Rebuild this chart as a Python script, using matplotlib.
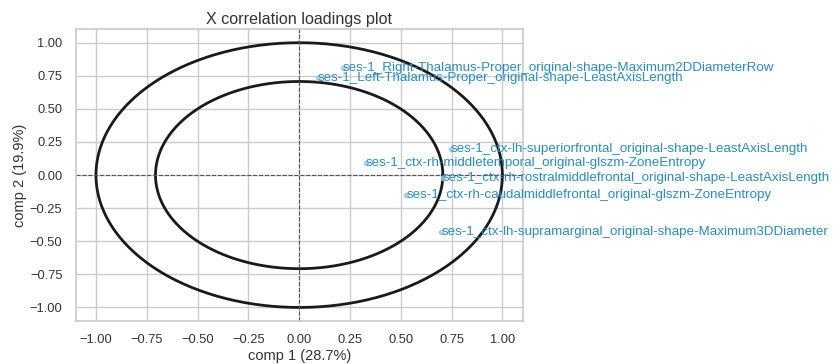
import matplotlib
matplotlib.use("Agg")
import matplotlib.pyplot as plt
import numpy as np
import seaborn as sns

# loadings of the selected features on comp 1 / comp 2
features = [
    "ses-1_Right-Thalamus-Proper_original-shape-Maximum2DDiameterRow",
    "ses-1_Left-Thalamus-Proper_original-shape-LeastAxisLength",
    "ses-1_ctx-lh-superiorfrontal_original-shape-LeastAxisLength",
    "ses-1_ctx-rh-middletemporal_original-glszm-ZoneEntropy",
    "ses-1_ctx-rh-rostralmiddlefrontal_original-shape-LeastAxisLength",
    "ses-1_ctx-rh-caudalmiddlefrontal_original-glszm-ZoneEntropy",
    "ses-1_ctx-lh-supramarginal_original-shape-Maximum3DDiameter",
]
comp1 = [0.214, 0.091, 0.748, 0.327, 0.706, 0.527, 0.699]
comp2 = [0.810, 0.733, 0.197, 0.088, -0.025, -0.151, -0.429]
circle_radii = [1.0, np.sqrt(0.5)]

sns.set_theme(style="whitegrid")
plt.rcParams["font.family"] = ["Liberation Sans", "DejaVu Sans"]

fig = plt.figure(figsize=(8.34, 3.64), dpi=100)
ax = fig.add_axes([0.0907, 0.119, 0.536, 0.80])

theta = np.linspace(0, 2 * np.pi, 400)
for r in circle_radii:
    ax.plot(r * np.cos(theta), r * np.sin(theta), color="#1a1a1a", lw=2.0)

ax.axhline(0, color="#555555", ls="--", lw=0.8)
ax.axvline(0, color="#555555", ls="--", lw=0.8)

ax.scatter(comp1, comp2, s=10, color="#9ecae1", alpha=0.8, zorder=3)
for name, x, y in zip(features, comp1, comp2):
    ax.text(x, y, name, color="#2a8cc0", fontsize=9.6, ha="left", va="center")

ax.set_xlim(-1.1, 1.1)
ax.set_ylim(-1.1, 1.1)
ax.set_xticks(np.arange(-1, 1.01, 0.25))
ax.set_yticks(np.arange(-1, 1.01, 0.25))
ax.tick_params(labelsize=9.3, colors="#333333")
ax.set_xlabel("comp 1 (28.7%)", fontsize=10.5, color="#333333", labelpad=2)
ax.set_ylabel("comp 2 (19.9%)", fontsize=10.5, color="#333333", labelpad=2)
ax.set_title("X correlation loadings plot", fontsize=11.6, color="#333333", pad=4)

fig.savefig("out.png", dpi=100)
